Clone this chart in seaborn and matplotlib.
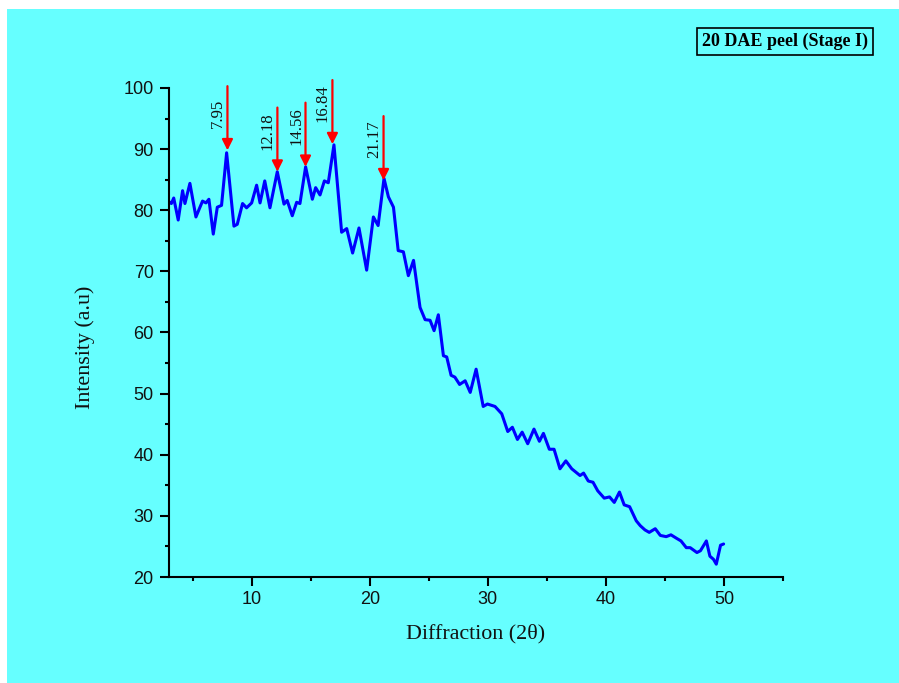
import matplotlib
matplotlib.use("Agg")
import matplotlib.pyplot as plt
import seaborn as sns
import pandas as pd
from matplotlib.patches import Rectangle
from matplotlib.ticker import MultipleLocator

# ---------------------------------------
# XRD pattern
# ---------------------------------------

two_theta = [3.0, 3.2, 3.4, 3.78, 4.15, 4.35, 4.77, 5.28, 5.84, 6.13, 6.38, 6.75,
             7.09, 7.45, 7.88, 8.5, 8.78, 9.23, 9.57, 10.0, 10.42, 10.71, 11.11,
             11.55, 12.17, 12.74, 13.01, 13.44, 13.81, 14.09, 14.57, 15.14, 15.42,
             15.79, 16.16, 16.49, 16.97, 17.62, 18.05, 18.55, 19.09, 19.74, 20.31,
             20.71, 21.21, 21.58, 22.01, 22.41, 22.85, 23.27, 23.71, 24.26, 24.69,
             25.11, 25.45, 25.81, 26.24, 26.52, 26.89, 27.21, 27.61, 28.08, 28.51,
             29.01, 29.61, 29.97, 30.61, 31.18, 31.69, 32.08, 32.51, 32.91, 33.38,
             33.91, 34.37, 34.71, 35.21, 35.61, 36.11, 36.61, 37.11, 37.81, 38.11,
             38.51, 38.91, 39.31, 39.86, 40.31, 40.71, 41.15, 41.55, 42.01, 42.57,
             42.91, 43.31, 43.67, 44.18, 44.61, 45.11, 45.51, 46.01, 46.36, 46.81,
             47.14, 47.71, 48.01, 48.51, 48.81, 49.11, 49.35, 49.71, 49.97]

intensity = [81.4, 81.1, 82.0, 78.4, 83.2, 81.1, 84.4, 78.9, 81.5, 81.2, 81.8, 76.1,
             80.5, 80.8, 89.4, 77.4, 77.7, 81.1, 80.4, 81.2, 84.1, 81.2, 84.8,
             80.4, 86.3, 81.0, 81.6, 79.1, 81.3, 81.1, 87.1, 81.8, 83.7,
             82.5, 84.8, 84.5, 90.7, 76.4, 77.0, 73.0, 77.1, 70.2, 78.9,
             77.5, 85.2, 82.2, 80.5, 73.4, 73.2, 69.3, 71.8, 64.1, 62.1,
             62.0, 60.3, 62.9, 56.2, 56.0, 53.0, 52.7, 51.5, 52.1, 50.2,
             54.0, 47.9, 48.3, 47.9, 46.7, 43.8, 44.5, 42.5, 43.7, 41.8,
             44.2, 42.2, 43.5, 40.9, 40.9, 37.7, 39.0, 37.7, 36.6, 37.0,
             35.7, 35.5, 34.1, 32.9, 33.1, 32.2, 33.9, 31.8, 31.5, 29.2,
             28.4, 27.7, 27.3, 27.9, 26.8, 26.6, 26.9, 26.3, 25.9, 24.8,
             24.8, 24.0, 24.3, 25.9, 23.4, 22.9, 22.1, 25.2, 25.4]

# marked peaks
peak_labels = ["7.95", "12.18", "14.56", "16.84", "21.17"]
peak_tops = [89.8, 86.3, 87.1, 90.8, 84.9]

df = pd.DataFrame({"two_theta": two_theta, "intensity": intensity})

cyan = "#66FFFF"

sns.set_theme(style="ticks")
plt.rcParams["font.family"] = ["Liberation Sans", "DejaVu Sans"]

fig = plt.figure(figsize=(8.99, 6.83), dpi=100, facecolor="white")
fig.patches.append(Rectangle((7 / 899, 0), 1, 674 / 683, transform=fig.transFigure,
                             facecolor=cyan, edgecolor="none", zorder=-10))

ax = fig.add_axes([169 / 899, 106 / 683, 614 / 899, 489 / 683])
ax.set_facecolor(cyan)

sns.lineplot(data=df, x="two_theta", y="intensity", sort=False, color="#0000FF",
             linewidth=2.2, solid_joinstyle="round", solid_capstyle="round", ax=ax)

# ---------------------------------------
# Peak arrows and labels
# ---------------------------------------

for lab, top in zip(peak_labels, peak_tops):
    px = float(lab)
    ax.annotate("", xy=(px, top), xytext=(px, top + 10.5),
                arrowprops=dict(arrowstyle="-|>", color="red", lw=1.6,
                                mutation_scale=16, shrinkA=0, shrinkB=0),
                annotation_clip=False)
    ax.text(px - 0.8, top + 3.6, lab, rotation=90, ha="center", va="bottom",
            fontsize=12, family="Liberation Serif", color="#111111")

ax.set_xlim(3, 55)
ax.set_ylim(20, 100)
ax.xaxis.set_major_locator(MultipleLocator(10))
ax.xaxis.set_minor_locator(MultipleLocator(5))
ax.yaxis.set_major_locator(MultipleLocator(10))
ax.yaxis.set_minor_locator(MultipleLocator(5))
ax.set_xticks([10, 20, 30, 40, 50])

sns.despine(ax=ax)
for side in ["left", "bottom"]:
    ax.spines[side].set_linewidth(1.5)
    ax.spines[side].set_color("black")
ax.tick_params(which="major", direction="out", length=6.5, width=1.5,
               labelsize=13, colors="black", labelcolor="#111111")
ax.tick_params(which="minor", direction="out", length=3.2, width=1.5, colors="black")
ax.tick_params(axis="x", which="major", pad=3.5)
ax.tick_params(axis="y", which="major", pad=4.5)

ax.set_xlabel("Diffraction (2θ)", fontsize=15.8, family="Liberation Serif", color="#111111")
ax.set_ylabel("Intensity (a.u)", fontsize=15.8, family="Liberation Serif", color="#111111")
ax.xaxis.set_label_coords(0.5, -0.096)
ax.yaxis.set_label_coords(-0.1205, 0.469)

fig.text(785 / 899, 1 - 41.5 / 683, "20 DAE peel (Stage I)", ha="center", va="center",
         fontsize=13, fontweight="bold", family="Liberation Serif", color="black",
         bbox=dict(boxstyle="square,pad=0.28", facecolor=cyan, edgecolor="black", lw=1.2))

plt.savefig("out.png", dpi=100, facecolor=fig.get_facecolor())
